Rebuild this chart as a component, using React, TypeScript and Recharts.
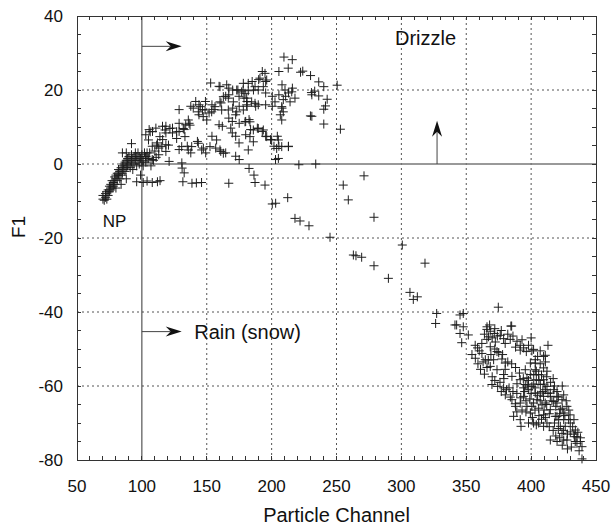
import React from 'react';
import {
  ScatterChart, Scatter, XAxis, YAxis, ReferenceLine, ReferenceDot,
} from 'recharts';

const FONT = '"Liberation Sans", Arial, Helvetica, sans-serif';

// axis ticks (minor every 10 on x, every 5 on y; labelled at 50 / 20)
const X_DOMAIN = [50, 450];
const Y_DOMAIN = [-80, 40];
const X_MINOR = Array.from({ length: 41 }, (_, i) => 50 + i * 10);
const Y_MINOR = Array.from({ length: 25 }, (_, i) => -80 + i * 5);
const X_LABELS = [50, 100, 150, 200, 250, 300, 350, 400, 450];
const Y_LABELS = [-80, -60, -40, -20, 0, 20, 40];
const GRID_X = [150, 200, 250, 300, 350, 400];
const GRID_Y = [-60, -40, -20, 20];

// NP: small particles, dense diagonal band left of channel 100
const npPoints: [number, number][] = [
  [70, -9.5], [70, -8.5], [71, -9.8], [72, -8], [72, -9], [73, -7.5], [73, -9.5], [74, -7], [74, -8.5],
  [75, -6], [75, -7.5], [76, -5.5], [76, -7], [77, -6.5], [77, -4.5], [78, -5], [78, -6], [79, -3.5],
  [79, -5.5], [80, -4], [80, -3], [81, -4.5], [81, -2.5], [82, -3], [82, -1.5], [83, -4], [83, -2],
  [84, -1], [84, -3], [85, -0.5], [85, -2.5], [86, 0], [86, -1.5], [87, 0.5], [87, -2], [88, 1], [88, -1],
  [89, -0.5], [89, 1.5], [90, 0], [90, 2], [91, -1], [91, 1], [92, 2.5], [92, 0.5], [93, 1.5], [93, -1.5],
  [94, 2], [94, 0], [95, 3], [95, 1], [96, -0.5], [96, 2], [97, 1], [97, 3], [98, 0], [98, 2], [99, 1.5],
  [100, 2.5], [100, 0.5], [101, 1], [102, 3], [103, 2], [104, 1.5], [85, 3], [88, 3], [92, 5.5],
  [80, -6.5], [84, -5.5], [88, -4], [99, -3], [101, -0.5], [103, 0.5], [105, 1.5], [107, -0.5],
  [109, 1], [111, 1.8], [113, 2.5], [106, 3], [110, 3.5],
];

// drizzle arc, channels 100-255
const arcPoints: [number, number][] = [
  [209.5, 28.9], [215.9, 28.2], [212.8, 25.9], [205.6, 25], [222.3, 24.8], [230, 23.9], [192.8, 25],
  [190, 22.8], [195.4, 22.3], [185, 22.3], [208, 21.4], [216, 20.5], [231, 18.7], [231, 12.9],
  [153, 21.9], [159.5, 21], [167, 20.5], [170, 20], [174, 20], [178, 20], [182, 19.8], [186, 20],
  [164.6, 18.3], [167, 18.7], [174.9, 18.3], [178.7, 17.8], [195.4, 19.2], [200.5, 18.3], [205.6, 18.7],
  [210.8, 18.3], [213, 19.2], [209, 17.4], [208, 15.1], [206.7, 13.3], [200.5, 15.6], [195.4, 16],
  [187.7, 15.6], [181, 16.9], [181, 15.6], [175, 15.6], [170, 15.1], [161, 16.5], [154, 16], [149, 16.9],
  [144, 16], [141.5, 16.9], [137.7, 15.6], [146.7, 14.7], [151.8, 13.8], [155.6, 14.7], [128.7, 14.7],
  [144, 13.3], [136.4, 11], [133.8, 10.6], [128.7, 11], [123.6, 9.7], [118.5, 10.2], [115.9, 10.2],
  [110.8, 9.7], [108.2, 8.8], [103, 7.9], [105.6, 9.3], [118.5, 8.4], [123.6, 8.4], [128.7, 8.8],
  [132.6, 9.3], [116, 6.6], [112, 5.7], [108, 4.8], [113, 4.3], [118.5, 5.2], [118.5, 3.4], [104, 3],
  [103, 2], [108, 1.2], [121, 0.7], [130.8, 0.3], [131, -1.1], [132.6, -2.4], [128.7, 3.9], [135, 4.8],
  [137.7, 3], [142.8, 6.1], [147.4, 4.3], [149.2, 3], [154, 7.5], [156.9, 4.3], [160.8, 3.4], [164.6, 3],
  [159.5, 10.6], [162, 10.2], [167, 12.4], [169.7, 11.5], [175, 11], [180, 11.5], [182.6, 12],
  [172.3, 13.3], [168.5, 9.7], [169.7, 8.4], [172.3, 7.5], [174.9, 5.7], [180, 7.9], [183.8, 9.3],
  [189, 9.7], [192.8, 8.8], [195.4, 7.5], [199.2, 6.6], [204.4, 7.5], [201.8, 4.8], [205.6, 4.8],
  [213, 4.8], [203, 1.2], [172.3, 2.1], [175, 1.2],
  [224, 25.1], [236.3, 22.2], [240.2, 20.9], [250.5, 21.3], [230.7, 19.3], [233.2, 19.7], [236.3, 18.4],
  [242.8, 17.5], [241.5, 15.7], [240.2, 14.8], [229.9, 13], [240.2, 10.8], [253, 9.4],
  [210.3, 20], [215.5, 19.5], [218, 17.8], [214.2, 16.8], [202.6, 16.8], [207.8, 15.5], [209, 14.1],
  [207.8, 11.9], [191, 23.2], [194.9, 24.5], [196.2, 22.7], [193.6, 20.9], [189.7, 20], [187.2, 20.9],
  [178.2, 21.8], [182, 21.8], [179.5, 19.1], [180.8, 17.8], [184.6, 16.8], [187.2, 16.4], [189.7, 16],
  [180.8, 16], [178.2, 14.6], [179.5, 11.4], [183.3, 11.4], [185.9, 9.2], [189.7, 9.6], [193.6, 9.2],
  [196.2, 7.4], [200, 6.5], [203.9, 4.2], [207.8, 4.7], [212.9, 4.7], [205.2, 6.5], [183.3, 7.4],
  [185.9, 6], [182, 3.8], [205.2, 1.5], [160.2, 20.9], [165.4, 21.4], [173.1, 20], [176.9, 19.5],
  [162.8, 18.2], [166.6, 17.8], [170.5, 16.8], [160.2, 16.8], [156.4, 15.5], [153.8, 14.1], [161.5, 14.6],
  [166.6, 14.6], [173.1, 14.1], [145, 15.5], [148.7, 14.6], [139.6, 15.1], [147.3, 12.8], [150, 11.9],
  [143.5, 14.1], [135.8, 11.9], [137.1, 10.5], [131.9, 9.6], [126.8, 8.7], [121.6, 9.6], [117.8, 9.2],
  [113.9, 7.4], [106.4, 8.7], [105.1, 6.5], [111.4, 5.1], [115.4, 4.7], [120.5, 5.1], [126.8, 6.9],
  [133.2, 7.4], [130.7, 4.7], [135.8, 3.8], [138.4, 4.7], [143.5, 5.6], [146.1, 3.8], [152.5, 4.7],
  [157.6, 6.5], [160.2, 3.8], [162.8, 2.9],
];

// scattered transition points between drizzle and rain
const transitionPoints: [number, number][] = [
  [96, -4.8], [101, -5], [104, -4.6], [108, -5], [112, -4.8], [114, -4.5], [131.6, -4.8], [138.6, -5.2],
  [142, -5.1], [146, -5], [167, -5.2], [182.6, -1.2], [186.4, -3], [187.2, -5], [194.9, -5.7],
  [200.5, -10.8], [203.1, -10.6], [212.4, -9.1], [218, -14.7], [221.9, -15.4], [228.8, -16.7],
  [245, -19.8], [221, -0.2], [234, 0], [255.2, -5.7], [271.2, -3.2], [259.1, -9.7], [278.9, -14.4],
  [300.7, -21.9], [318.2, -26.8], [263, -24.6], [265, -24.8], [269.4, -25.2], [278.9, -27.5],
  [290, -30.9], [306.6, -34.7], [309.2, -36.6], [312.3, -35.9], [327.2, -40.4], [326.4, -43.1],
  [342.6, -43.5],
];

// rain (snow) cluster, channels 340-440
const rainPoints: [number, number][] = [
  [374.7, -38.7], [347.7, -40.4], [345.2, -40.8], [341.3, -43.5], [347.7, -44], [345.2, -45.8],
  [351.6, -46.2], [346.5, -48.3], [385, -43.8],
  [365.9, -44.7], [368.5, -45.2], [367.2, -46.7], [371.6, -45.8], [376.2, -46.3], [378.8, -47.2],
  [384.4, -43.8], [383.9, -47.4], [389.1, -47.9], [391.6, -49], [394.2, -49.7], [391.6, -50.3],
  [396.3, -50.7], [401.9, -50.1], [410.9, -51.7], [403.2, -52.9], [399.4, -53.8], [365.9, -47.4],
  [372.4, -48.1], [368.5, -49.4], [373.7, -50.7], [377.5, -52.7], [380.1, -53.8], [371.1, -52.9],
  [356.9, -49], [358.7, -49.7], [354.4, -51.5], [362.1, -51.2], [364.7, -52.9], [368.5, -54.7],
  [373.7, -55.6], [378.8, -56.9], [385.2, -57.4], [391.6, -58.3], [395.5, -59.6], [398.1, -61],
  [394.2, -60.5], [389.1, -59.4],
  [369.8, -59.6], [374.2, -60.1], [378.8, -60.5], [380.1, -62.4], [385.2, -63.7], [387.8, -64.8],
  [386.5, -68.2], [391.6, -69.1], [392.2, -70.9], [401.9, -70], [409.6, -70.9], [414.8, -74.6],
  [420, -75], [427.6, -74.6], [433.3, -73.7], [435.3, -75.5], [439.2, -76.4], [439.2, -79.7],
  [403.2, -55.6], [405.8, -56.9], [404, -58.3], [409.6, -58.3], [407.1, -59.6], [412.2, -60.1],
  [417.4, -61], [414.8, -61.9], [419.9, -62.8], [423.8, -63.7], [425.1, -62.4], [427.6, -65.5],
  [419.9, -64.6], [425.1, -67.3], [428.9, -69.1], [422.5, -70.9], [423.8, -72.8], [430.2, -70],
  [434.1, -71.9], [435.3, -73.7], [410.9, -64.6], [414.8, -66.4], [409.6, -67.8], [404.5, -63.7],
  [405.8, -66], [400.6, -65.5], [407.1, -61.9], [403.2, -53.8], [409.6, -55.1], [412.2, -56],
  [399.4, -56.9], [395.5, -55.6], [396.8, -57.8], [414.8, -62.8], [418.6, -68.2], [421.2, -69.1],
  [433, -69.1], [426.3, -70.9], [412.2, -70], [430.2, -72.4], [425.1, -74.6], [437.9, -75],
  [405.8, -70], [409.6, -62.8], [417.4, -64.2], [422.5, -66.4], [403.2, -61.9], [400.6, -60.1],
  [408.4, -65.1], [419.9, -68.2], [401.9, -64.6], [425.1, -69.1], [394.2, -62.8], [396.8, -65.5],
  [391.6, -64.6], [399.4, -67.3], [400.6, -50.5], [409.6, -52],
  [360, -50.5], [362, -48.5], [364, -46], [366, -44], [368, -43.5], [370, -47], [372, -44.5],
  [374, -46.5], [377, -45], [380, -48.5], [382, -46], [386, -46.5], [388, -49.5], [393, -47.5],
  [398, -49], [400, -47], [405, -52], [407, -50.5], [411, -53.5], [413, -49], [357, -52.5], [359, -54],
  [361, -55.5], [364, -56.8], [366, -55], [370, -57.5], [372, -58.5], [376, -59], [379, -58],
  [383, -60.5], [386, -61.5], [389, -62], [392, -63.2], [396, -64], [399, -63.5], [403, -66.5],
  [406, -68], [408, -69], [411, -68.5], [414, -71], [417, -72], [419, -73.5], [422, -74], [424, -76],
  [428, -77], [431, -76.5], [434, -75], [437, -77.5], [402, -57], [404, -56], [406, -58.5], [408, -57],
  [410, -59.5], [411, -61], [413, -62], [415, -59], [416, -64], [418, -60], [419, -65.5], [421, -63],
  [422, -67.5], [424, -66], [426, -68], [427, -64], [429, -66.5], [430, -67.8], [432, -71], [436, -72.5],
  [438, -74], [412, -65], [410, -66.5], [407, -64], [405, -62.5], [402, -59.5], [398, -58.5], [397, -60],
  [400, -62], [394, -58], [391, -56.5], [388, -55], [385, -54], [382, -53.5], [378, -51.5], [375, -51],
  [372, -50], [369, -51.5], [367, -53], [363, -53.5], [380, -55.5], [395, -61.5], [401, -68.5],
  [404, -70.5], [398, -70], [396, -67], [393, -66.5], [389, -67], [388, -65.5], [384, -63], [381, -61],
  [377, -61.5], [403, -60.5], [409, -61.5], [414, -67.5], [418, -70], [421, -71.5], [425, -72],
  [428, -73], [433, -73], [417, -58], [420, -61.5], [424, -60], [407, -54], [412, -57.5],
];

const allPoints = [...npPoints, ...arcPoints, ...transitionPoints, ...rainPoints]
  .map(([x, y]) => ({ x, y }));

// plot box in page pixels (matches the chart margins + axis sizes below)
const CHART_W = 613;
const CHART_H = 529;
const PLOT = { left: 77, top: 16, width: 519, height: 444 };
const TICK_LEN = 4;
const AXIS_COLOR = '#333';

function PlusMark(props: any) {
  const { cx, cy } = props;
  if (cx == null || cy == null) return <g />;
  const h = 4.5;
  return (
    <path
      d={`M${cx - h},${cy}H${cx + h}M${cx},${cy - h}V${cy + h}`}
      stroke="#1e1e1e"
      strokeWidth={1}
      fill="none"
    />
  );
}

function Arrow(props: any) {
  const { x1, y1, x2, y2 } = props;
  const dx = x2 - x1;
  const dy = y2 - y1;
  const len = Math.hypot(dx, dy) || 1;
  const ux = dx / len;
  const uy = dy / len;
  const px = -uy;
  const py = ux;
  const L = 16;
  const W = 5;
  const N = 11;
  const pts = [
    [x2, y2],
    [x2 - ux * L + px * W, y2 - uy * L + py * W],
    [x2 - ux * N, y2 - uy * N],
    [x2 - ux * L - px * W, y2 - uy * L - py * W],
  ].map(p => p.join(',')).join(' ');
  return (
    <g>
      <line x1={x1} y1={y1} x2={x2 - ux * N} y2={y2 - uy * N} stroke="#444" strokeWidth={1} />
      <polygon points={pts} fill="#111" />
    </g>
  );
}

// frame with inward minor ticks, laid over the chart
function Frame() {
  const { left, top, width, height } = PLOT;
  const bottom = top + height;
  const right = left + width;
  const sx = (v: number) => left + ((v - X_DOMAIN[0]) / (X_DOMAIN[1] - X_DOMAIN[0])) * width;
  const sy = (v: number) => bottom - ((v - Y_DOMAIN[0]) / (Y_DOMAIN[1] - Y_DOMAIN[0])) * height;
  return (
    <svg
      width={CHART_W}
      height={CHART_H}
      style={{ position: 'absolute', left: 0, top: 0, pointerEvents: 'none' }}
    >
      <g stroke={AXIS_COLOR} strokeWidth={1} fill="none" shapeRendering="crispEdges">
        <rect x={left} y={top} width={width} height={height} />
        {X_MINOR.map(v => (
          <g key={`x${v}`}>
            <line x1={sx(v)} x2={sx(v)} y1={bottom} y2={bottom - TICK_LEN} />
            <line x1={sx(v)} x2={sx(v)} y1={top} y2={top + TICK_LEN} />
          </g>
        ))}
        {Y_MINOR.map(v => (
          <g key={`y${v}`}>
            <line x1={left} x2={left + TICK_LEN} y1={sy(v)} y2={sy(v)} />
            <line x1={right} x2={right - TICK_LEN} y1={sy(v)} y2={sy(v)} />
          </g>
        ))}
      </g>
    </svg>
  );
}

const gridStyle = { stroke: '#555', strokeDasharray: '2 3', strokeWidth: 1 };
const tickStyle = { fontSize: 17, fill: '#111', fontFamily: FONT };
const titleStyle: React.CSSProperties = {
  position: 'absolute', fontFamily: FONT, fontSize: 20, lineHeight: '20px', color: '#111', whiteSpace: 'nowrap',
};

export default function App() {
  return (
    <div style={{ position: 'absolute', left: 0, top: 0, width: CHART_W, height: CHART_H, background: '#fff' }}>
      <ScatterChart
        width={CHART_W}
        height={CHART_H}
        margin={{ top: 16, right: 17, bottom: 39, left: 17 }}
      >
        <XAxis
          type="number"
          dataKey="x"
          domain={X_DOMAIN}
          ticks={X_LABELS}
          interval={0}
          tick={tickStyle}
          tickLine={false}
          axisLine={false}
          tickSize={0}
          tickMargin={20}
          height={30}
        />
        <YAxis
          type="number"
          dataKey="y"
          domain={Y_DOMAIN}
          ticks={Y_LABELS}
          interval={0}
          tick={tickStyle}
          tickLine={false}
          axisLine={false}
          tickSize={0}
          tickMargin={14}
          width={60}
        />

        {GRID_X.map(v => (
          <ReferenceLine key={`gx${v}`} x={v} {...gridStyle} />
        ))}
        {GRID_Y.map(v => (
          <ReferenceLine key={`gy${v}`} y={v} {...gridStyle} />
        ))}
        <ReferenceLine segment={[{ x: 50, y: 0 }, { x: 100, y: 0 }]} {...gridStyle} />
        <ReferenceLine segment={[{ x: 100, y: 0 }, { x: 450, y: 0 }]} stroke="#777" strokeWidth={1.5} />
        <ReferenceLine x={100} stroke="#333" strokeWidth={1} />

        <ReferenceLine segment={[{ x: 100, y: 31.8 }, { x: 130.7, y: 31.8 }]} shape={Arrow} />
        <ReferenceLine segment={[{ x: 100, y: -45.3 }, { x: 130.7, y: -45.3 }]} shape={Arrow} />
        <ReferenceLine segment={[{ x: 327.5, y: 0 }, { x: 327.5, y: 11.7 }]} shape={Arrow} />

        <ReferenceDot x={294.3} y={34} r={1} stroke="none" fill="none"
          label={{ value: 'Drizzle', position: 'right', offset: 0, fontSize: 20, fontFamily: FONT, fill: '#111' }} />
        <ReferenceDot x={69} y={-15.3} r={1} stroke="none" fill="none"
          label={{ value: 'NP', position: 'right', offset: 0, fontSize: 17, fontFamily: FONT, fill: '#111' }} />
        <ReferenceDot x={139.6} y={-45.3} r={1} stroke="none" fill="none"
          label={{ value: 'Rain (snow)', position: 'right', offset: 0, fontSize: 20, fontFamily: FONT, fill: '#111' }} />

        <Scatter data={allPoints} shape={PlusMark} isAnimationActive={false} />
      </ScatterChart>

      <Frame />

      <div style={{ ...titleStyle, left: 77, width: 519, top: 505, textAlign: 'center' }}>
        Particle Channel
      </div>
      <div
        style={{
          ...titleStyle,
          fontSize: 19,
          lineHeight: '19px',
          left: 17.5,
          top: 227,
          transform: 'translate(-50%, -50%) rotate(-90deg)',
        }}
      >
        F1
      </div>
    </div>
  );
}
